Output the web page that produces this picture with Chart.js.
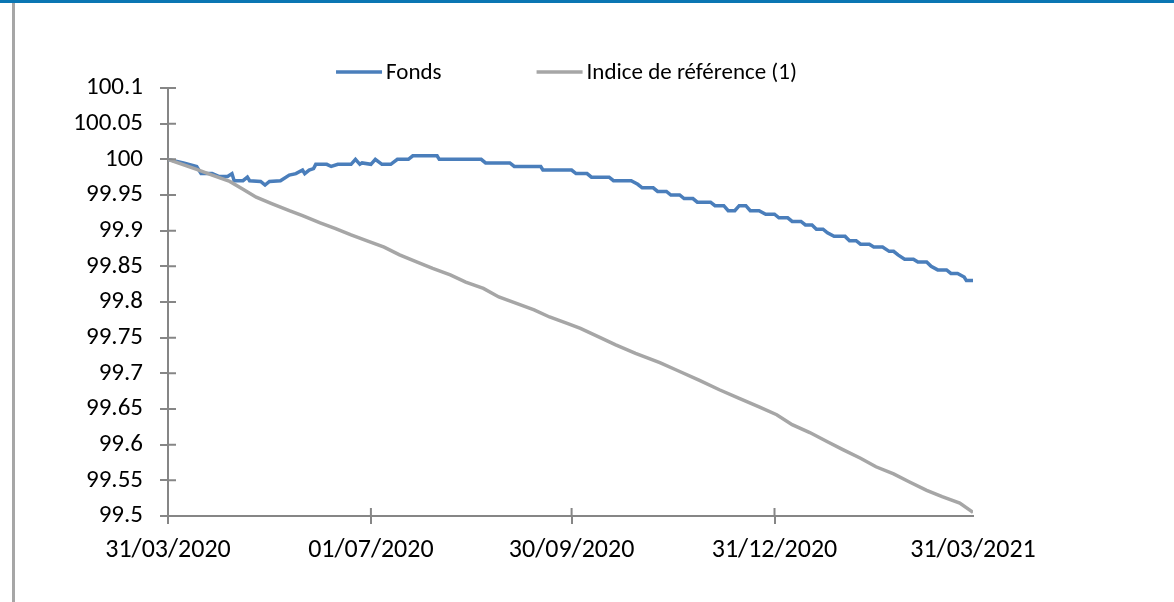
<!DOCTYPE html>
<html lang="fr">
<head>
    <meta charset="UTF-8">
    <title>Fonds vs Indice de référence</title>
    <script src="https://cdn.jsdelivr.net/npm/chart.js"></script>
    <style>
        body {
            margin: 0;
            background: #fff;
        }
        #wrap {
            position: relative;
            width: 1174px;
            height: 602px;
            overflow: hidden;
        }
        #topBar {
            position: absolute;
            left: 0; top: 0;
            width: 1174px; height: 3px;
            background: #0a76b3;
        }
        #leftBar {
            position: absolute;
            left: 12px; top: 3px;
            width: 3px; height: 599px;
            background: #a6a6a6;
        }
    </style>
</head>
<body>
<div id="wrap">
    <canvas id="chart" width="1174" height="602"></canvas>
    <div id="topBar"></div>
    <div id="leftBar"></div>
</div>

<script>
    // days since 31/03/2020
    const tickDays = [0, 92, 183, 275, 365];
    const tickLabels = ['31/03/2020', '01/07/2020', '30/09/2020', '31/12/2020', '31/03/2021'];

    const seriesNames = ['Fonds', 'Indice de référence (1)'];

    const fondsDays = [
        0, 7, 13, 15, 20, 23, 27, 29, 30, 34,
        36, 37, 42, 44, 46, 51, 55, 58, 61, 62,
        64, 66, 67, 72, 74, 77, 83, 85, 87, 88,
        92, 94, 97, 101, 104, 109, 111, 122, 123, 142,
        144, 155, 157, 169, 170, 183, 185, 190, 192, 200,
        202, 210, 213, 215, 220, 222, 226, 228, 232, 234,
        238, 240, 246, 248, 252, 254, 257, 259, 262, 264,
        268, 271, 275, 277, 281, 283, 287, 289, 292, 294,
        297, 299, 302, 307, 309, 312, 314, 318, 320, 324,
        327, 329, 331, 334, 338, 340, 344, 346, 349, 353,
        355, 358, 361, 362, 365
    ];
    const fondsValues = [
        100.000, 99.995, 99.990, 99.980, 99.980, 99.976, 99.976, 99.980, 99.970, 99.970,
        99.975, 99.970, 99.969, 99.964, 99.969, 99.970, 99.978, 99.980, 99.985, 99.980,
        99.985, 99.987, 99.993, 99.993, 99.990, 99.993, 99.993, 100.000, 99.993, 99.995,
        99.993, 100.000, 99.993, 99.993, 100.000, 100.000, 100.005, 100.005, 100.000, 100.000,
        99.995, 99.995, 99.990, 99.990, 99.985, 99.985, 99.980, 99.980, 99.975, 99.975,
        99.970, 99.970, 99.965, 99.960, 99.960, 99.955, 99.955, 99.950, 99.950, 99.945,
        99.945, 99.940, 99.940, 99.935, 99.935, 99.928, 99.928, 99.935, 99.935, 99.928,
        99.928, 99.923, 99.923, 99.918, 99.918, 99.913, 99.913, 99.908, 99.908, 99.902,
        99.902, 99.897, 99.892, 99.892, 99.886, 99.886, 99.881, 99.881, 99.877, 99.877,
        99.871, 99.871, 99.866, 99.860, 99.860, 99.856, 99.856, 99.850, 99.845, 99.845,
        99.840, 99.840, 99.835, 99.830, 99.830
    ];

    const indiceDays = [
        0, 13, 20, 28, 34, 40, 47, 55, 61, 69,
        76, 83, 90, 98, 105, 113, 120, 128, 135, 143,
        150, 158, 166, 173, 181, 187, 196, 203, 212, 223,
        231, 241, 250, 259, 268, 276, 283, 291, 299, 306,
        314, 321, 329, 336, 344, 351, 359, 365
    ];
    const indiceValues = [
        100.000, 99.986, 99.978, 99.969, 99.958, 99.947, 99.938, 99.928, 99.921, 99.911,
        99.903, 99.894, 99.886, 99.877, 99.866, 99.856, 99.847, 99.838, 99.828, 99.819,
        99.807, 99.798, 99.789, 99.779, 99.770, 99.763, 99.750, 99.740, 99.728, 99.715,
        99.704, 99.690, 99.677, 99.665, 99.653, 99.642, 99.628, 99.617, 99.604, 99.593,
        99.581, 99.569, 99.559, 99.548, 99.536, 99.527, 99.518, 99.505
    ];

    const FONT = 'Calibri, Carlito, Lato, sans-serif';
    const AXIS_COLOR = '#868686';
    const TICK = 8;

    Chart.defaults.font.family = FONT;
    Chart.defaults.color = '#000';

    function toPoints(days, values) {
        return days.map((d, i) => ({ x: d, y: values[i] }));
    }

    // no tick mark at the very end of the date axis
    const xTickColor = ctx => ctx.index === tickDays.length - 1 ? 'rgba(0,0,0,0)' : AXIS_COLOR;

    // ticks in Excel style: cross the axis line
    const innerTicks = {
        id: 'innerTicks',
        afterDraw(chart) {
            const ctx = chart.ctx;
            const area = chart.chartArea;
            const xs = chart.scales.x, ys = chart.scales.y;
            ctx.save();
            ctx.strokeStyle = AXIS_COLOR;
            ctx.lineWidth = 2;
            ctx.beginPath();
            ys.ticks.forEach(t => {
                const y = ys.getPixelForValue(t.value);
                ctx.moveTo(area.left, y);
                ctx.lineTo(area.left + TICK, y);
            });
            xs.ticks.forEach((t, i) => {
                if (i === xs.ticks.length - 1) return;
                const x = xs.getPixelForValue(t.value);
                ctx.moveTo(x, area.bottom);
                ctx.lineTo(x, area.bottom - TICK);
            });
            ctx.stroke();
            ctx.restore();
        }
    };

    // legend drawn by hand: line sample, small gap, text, wide gap between items
    const lineLegend = {
        id: 'lineLegend',
        afterDraw(chart) {
            const ctx = chart.ctx;
            const area = chart.chartArea;
            const lineLen = 46, textGap = 4, itemGap = 95, y = 72;
            ctx.save();
            ctx.font = '23px ' + FONT;
            ctx.textBaseline = 'middle';
            ctx.fillStyle = '#000';
            const items = chart.data.datasets.map(ds => ({
                text: ds.label, color: ds.borderColor,
                w: lineLen + textGap + ctx.measureText(ds.label).width
            }));
            const total = items.reduce((s, it) => s + it.w, 0) + itemGap * (items.length - 1);
            let x = (area.left + area.right) / 2 - 4 - total / 2;
            items.forEach(it => {
                ctx.strokeStyle = it.color;
                ctx.lineWidth = 3.5;
                ctx.beginPath();
                ctx.moveTo(x, y);
                ctx.lineTo(x + lineLen, y);
                ctx.stroke();
                ctx.fillText(it.text, x + lineLen + textGap, y + 1);
                x += it.w + itemGap;
            });
            ctx.restore();
        }
    };

    new Chart(document.getElementById('chart'), {
        type: 'line',
        data: {
            datasets: [
                {
                    label: seriesNames[0],
                    data: toPoints(fondsDays, fondsValues),
                    borderColor: '#4a7ebb',
                    borderWidth: 3.5,
                    pointRadius: 0,
                    tension: 0,
                    order: 1
                },
                {
                    label: seriesNames[1],
                    data: toPoints(indiceDays, indiceValues),
                    borderColor: '#a6a6a6',
                    borderWidth: 3.5,
                    pointRadius: 0,
                    tension: 0,
                    order: 0
                }
            ]
        },
        options: {
            responsive: false,
            animation: false,
            layout: { padding: { top: 88, right: 201, bottom: 0, left: 0 } },
            plugins: {
                legend: { display: false },
                tooltip: { enabled: false }
            },
            scales: {
                x: {
                    type: 'linear',
                    min: 0,
                    max: 365,
                    afterBuildTicks: scale => {
                        scale.ticks = tickDays.map(v => ({ value: v }));
                    },
                    afterFit: scale => { scale.height = 86; },
                    ticks: {
                        autoSkip: false,
                        maxRotation: 0,
                        padding: 11,
                        font: { size: 26 },
                        callback: (v) => tickLabels[tickDays.indexOf(v)]
                    },
                    grid: {
                        drawOnChartArea: false,
                        drawTicks: true,
                        tickLength: TICK,
                        color: xTickColor,
                        lineWidth: 2
                    },
                    border: { color: AXIS_COLOR, width: 2 }
                },
                y: {
                    min: 99.5,
                    max: 100.1,
                    afterFit: scale => { scale.width = 168; },
                    ticks: {
                        stepSize: 0.05,
                        padding: 17,
                        font: { size: 25 },
                        callback: v => String(Number(v.toFixed(2)))
                    },
                    grid: {
                        drawOnChartArea: false,
                        drawTicks: true,
                        tickLength: TICK,
                        color: AXIS_COLOR,
                        lineWidth: 2
                    },
                    border: { color: AXIS_COLOR, width: 2 }
                }
            }
        },
        plugins: [innerTicks, lineLegend]
    });
</script>
</body>
</html>
